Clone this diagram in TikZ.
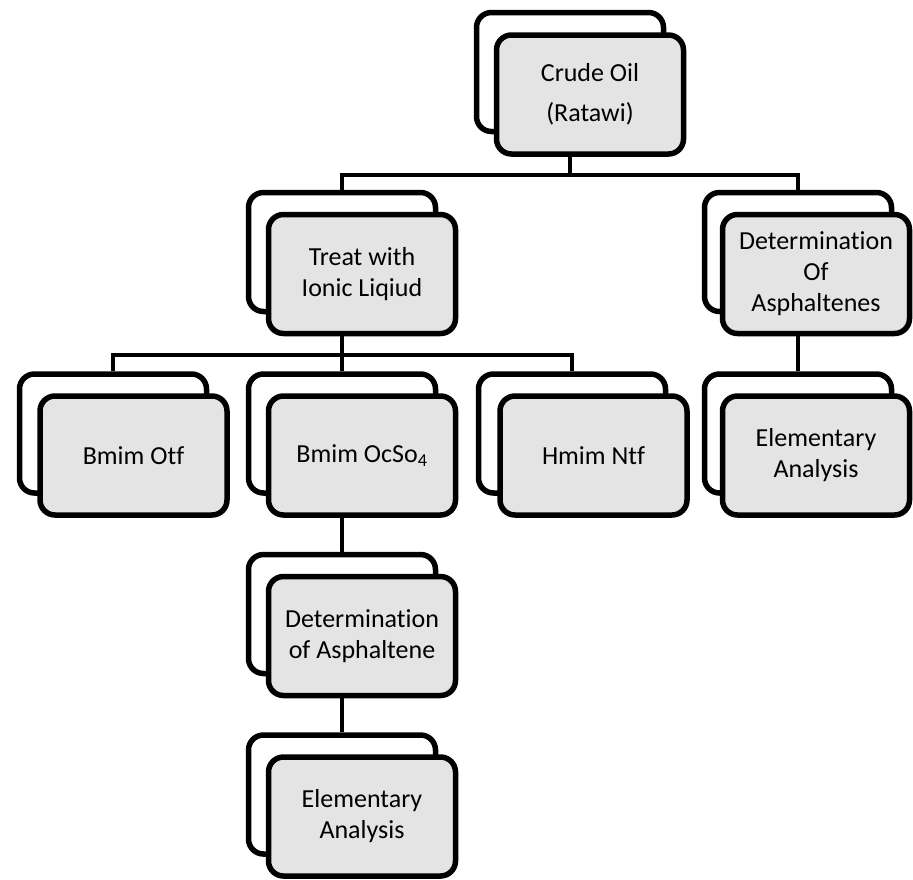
\documentclass[tikz,border=0pt]{standalone}
\usepackage{fontspec}
\setmainfont{Carlito}[Ligatures=NoCommon]
\definecolor{boxgray}{RGB}{228,228,228}
\begin{document}
\begin{tikzpicture}[x=1pt,y=-1pt,
  boxbase/.style={draw=black, line width=5.5pt, rounded corners=15pt,
    minimum width=187pt, minimum height=119pt, inner sep=0pt},
  backbox/.style={boxbase, fill=white},
  frontbox/.style={boxbase, fill=boxgray, align=center,
    font=\fontsize{26}{31}\selectfont},
  conn/.style={draw=black, line width=4.5pt, line join=miter}]
\useasboundingbox (0,0) rectangle (913,879);

% boxes: back first, then front
\node[backbox] (crudeB) at (570,72) {};
\node[frontbox, font=\fontsize{26}{40}\selectfont] (crude) at (590,94.5) {Crude Oil\\(Ratawi)};

\node[backbox] (treatB) at (342,252) {};
\node[frontbox] (treat) at (362,274) {Treat with\\Ionic Liqiud};

\node[backbox] (detOfB) at (798,252) {};
\node[frontbox] (detOf) at (816,274) {Determination\\Of\\Asphaltenes};

\node[backbox] (otfB) at (113,433.5) {};
\node[frontbox] (otf) at (133.5,455.5) {Bmim Otf};

\node[backbox] (ocsoB) at (342,433.5) {};
\node[frontbox] (ocso) at (362,455.5) {Bmim OcSo\textsubscript{4}};

\node[backbox] (hmimB) at (572,433.5) {};
\node[frontbox] (hmim) at (593.5,455.5) {Hmim Ntf};

\node[backbox] (elemRB) at (798,433.5) {};
\node[frontbox] (elemR) at (816,455.5) {Elementary\\Analysis};

\node[backbox] (detAB) at (342,614) {};
\node[frontbox] (detA) at (362,636) {Determination\\of Asphaltene};

\node[backbox] (elemMB) at (342,794.5) {};
\node[frontbox] (elemM) at (362,816.5) {Elementary\\Analysis};

% buses
\coordinate (bus1) at (570,175);
\coordinate (bus2) at (342,355);

% connectors
\draw[conn] (crude.south -| crudeB.south) -- (bus1);
\draw[conn] (treatB.north) |- (bus1) -| (detOfB.north);
\draw[conn] (treat.south -| treatB.south) -- (bus2);
\draw[conn] (otfB.north) |- (bus2) -| (hmimB.north);
\draw[conn] (bus2) -- (ocsoB.north);
\draw[conn] (detOf.south -| detOfB.south) -- (elemRB.north);
\draw[conn] (ocso.south -| ocsoB.south) -- (detAB.north);
\draw[conn] (detA.south -| detAB.south) -- (elemMB.north);
\end{tikzpicture}
\end{document}
